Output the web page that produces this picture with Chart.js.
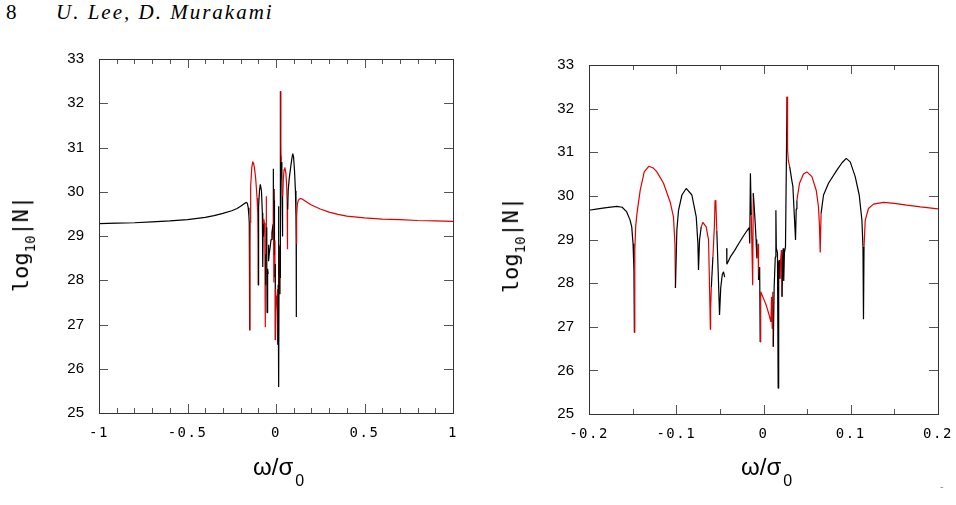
<!DOCTYPE html>
<html>
<head>
<meta charset="utf-8">
<script src="https://cdn.jsdelivr.net/npm/chart.js@4.4.1/dist/chart.umd.min.js"></script>
<style>
  body { margin: 0; background: #fff; width: 956px; height: 505px; position: relative; overflow: hidden; }
  canvas { position: absolute; top: 0; }
  .txt { position: absolute; white-space: nowrap; color: #000; }
  .ytitle { font: 22px "DejaVu Sans Mono"; line-height: 22px; transform: translate(-50%, -50%) rotate(-90deg); }
  .ytitle sub { font-size: 14px; line-height: 0; vertical-align: -7px; }
  .xtitle { font: 24px "Liberation Sans"; line-height: 24px; }
  .xtitle sub { font-size: 16px; line-height: 0; vertical-align: -11px; margin-left: 2px; }
</style>
</head>
<body>
<div class="txt" style="left:6px;top:2px;font:21px 'Liberation Serif';line-height:21px">8</div>
<div class="txt" style="left:56px;top:2px;font:italic 21px 'Liberation Serif';line-height:21px;letter-spacing:2px">U. Lee, D. Murakami</div>

<canvas id="leftChart" width="478" height="505" style="left:0"></canvas>
<canvas id="rightChart" width="478" height="505" style="left:478px"></canvas>

<div class="txt ytitle" style="left:21px;top:244px">log<sub>10</sub>|N|</div>
<div class="txt ytitle" style="left:511px;top:245px">log<sub>10</sub>|N|</div>
<div class="txt xtitle" style="left:253px;top:455px">ω/σ<sub>0</sub></div>
<div class="txt xtitle" style="left:741px;top:455px">ω/σ<sub>0</sub></div>
<div class="txt" style="left:940px;top:481px;font:10px 'DejaVu Sans';color:#888">-</div>

<script>
// frequency omega/sigma0, log10|N|, and the colour of the piece that starts at each point (k = black, r = red)
const omega = [
  -1.0, -0.9, -0.8, -0.7, -0.6, -0.5, -0.4, -0.35, -0.3, -0.25, -0.22, -0.2, -0.19, -0.18, -0.168, -0.162,
  -0.157, -0.153, -0.151, -0.1495, -0.1485, -0.148, -0.1475, -0.1465, -0.145, -0.1413, -0.1367, -0.1313,
  -0.1265, -0.1222, -0.1146, -0.107, -0.1032, -0.1015, -0.1009, -0.0993, -0.0974, -0.0935, -0.0886, -0.0821,
  -0.0771, -0.0752, -0.0745, -0.0733, -0.0714, -0.0695, -0.0657, -0.063, -0.0615, -0.0609, -0.0606, -0.0598,
  -0.058, -0.0563, -0.0555, -0.0546, -0.0535, -0.052, -0.0504, -0.049, -0.0472, -0.0458, -0.0445, -0.0435,
  -0.0422, -0.042, -0.038, -0.033, -0.028, -0.023, -0.019, -0.0164, -0.0158, -0.015, -0.014, -0.0124,
  -0.0117, -0.0108, -0.0095, -0.0085, -0.0077, -0.0062, -0.0057, -0.0044, -0.0038, -0.0032, 0.0, 0.003,
  0.006, 0.0085, 0.0092, 0.01, 0.0106, 0.0112, 0.0122, 0.0135, 0.0142, 0.0147, 0.016, 0.0168, 0.0174,
  0.0182, 0.0188, 0.0195, 0.0205, 0.0212, 0.022, 0.0226, 0.0232, 0.024, 0.0252, 0.027, 0.0276, 0.0285,
  0.03, 0.0325, 0.0337, 0.0352, 0.0362, 0.0367, 0.0375, 0.0383, 0.0413, 0.0458, 0.0497, 0.0555, 0.0604,
  0.063, 0.0642, 0.065, 0.066, 0.0688, 0.0745, 0.0841, 0.09, 0.0948, 0.0994, 0.1051, 0.1097, 0.1128,
  0.114, 0.1146, 0.1152, 0.1166, 0.1203, 0.1261, 0.1375, 0.15, 0.1643, 0.18, 0.2, 0.25, 0.3, 0.35, 0.4,
  0.5, 0.6, 0.7, 0.8, 0.9, 1.0
];
const logN = [
  29.28, 29.29, 29.30, 29.32, 29.34, 29.37, 29.42, 29.46, 29.51, 29.57, 29.62, 29.67, 29.70, 29.73, 29.76, 29.74,
  29.64, 29.45, 29.29, 28.9, 28.3, 26.87, 28.76, 29.3, 29.6, 30.13, 30.55, 30.68,
  30.64, 30.55, 30.29, 29.86, 29.52, 28.9, 27.89, 29.22, 29.67, 30.02, 30.17, 30.02,
  29.52, 28.91, 28.30, 28.99, 29.29, 29.39, 29.29, 28.99, 27.6, 26.94, 27.4, 27.9,
  28.6, 29.3, 29.9, 29.85, 29.2, 28.3, 27.27, 27.9, 28.2, 28.26, 28.14, null,
  28.8, 28.43, 28.6, 28.75, 28.92, 29.08, 29.2, 29.27, 28.91, 30.52, 29.55, 27.95,
  30.06, 29.8, 29.37, 29.0, 28.57, 28.9, 28.07, 28.37, 26.65, 27.8, 27.65, 27.5,
  27.3, 27.11, 27.69, 26.96, 27.8, 26.54, 27.9, 28.6, 29.67, 28.8, 28.7, 25.59, 28.48,
  28.53, 28.1, 28.5, 28.76, 27.69, 28.6, 28.8, 28.05, 28.7, 28.83, 32.27, 31.05, 30.8,
  30.67, 30.35, 30.21, 29.6, 29.2, 28.99, 29.7, 29.9, 30.29, 30.50, 30.55, 30.44, 30.13,
  29.75, 29.29, 28.70, 29.6, 30.02, 30.29, 30.59, 30.76, 30.86, 30.78, 30.44, 30.02, 29.44,
  28.83, 27.17, 28.83, 29.44, 29.71, 29.81, 29.85, 29.83, 29.79, 29.75, 29.70, 29.61, 29.54, 29.49, 29.45,
  29.41, 29.38, 29.37, 29.35, 29.34, 29.33
];
const part = (
  'kkkkkkkkkkkkkkkk' +
  'kkkkkrrrrrrr' +
  'rrrrrrkkkkkkkk' +
  'kkrrrrrrrkrr' +
  'rrkkkkkkkkkk' +
  'kkkkkkkkrrkk' +
  'kkrrkkrrrrrr' +
  'rrrkkkkkkkkkr' +
  'rrkkkkkkrrrkk' +
  'kkkkkrrrrrrr' +
  'rrkkkkkkkkkkk' +
  'krrrrrrrrrrrrrr' +
  'rrrrrr'
).split('');

const yTicks = [25, 26, 27, 28, 29, 30, 31, 32, 33];
const leftXLabels = ['-1', '-0.5', '0', '0.5', '1'];
const rightXLabels = ['-0.2', '-0.1', '0', '0.1', '0.2'];

const BLACK = '#000000';
const RED = '#e00000';

const points = omega.map((w, i) => ({ x: w, y: logN[i] }));

// frame round the plot and inward tick marks on all four sides
const frameTicks = {
  id: 'frameTicks',
  afterDraw(chart) {
    const { ctx, chartArea: a, scales: { x, y } } = chart;
    ctx.save();
    ctx.strokeStyle = '#555';
    ctx.lineWidth = 1;
    ctx.beginPath();
    x.ticks.forEach(t => {
      const px = Math.round(x.getPixelForValue(t.value)) + 0.5;
      const len = t.label ? 9 : 5;
      ctx.moveTo(px, a.bottom); ctx.lineTo(px, a.bottom - len);
      ctx.moveTo(px, a.top); ctx.lineTo(px, a.top + len);
    });
    y.ticks.forEach(t => {
      const py = Math.round(y.getPixelForValue(t.value)) + 0.5;
      ctx.moveTo(a.left, py); ctx.lineTo(a.left + 9, py);
      ctx.moveTo(a.right, py); ctx.lineTo(a.right - 9, py);
    });
    ctx.stroke();
    ctx.strokeStyle = '#333';
    ctx.strokeRect(Math.round(a.left) + 0.5, Math.round(a.top) + 0.5,
      Math.round(a.right - a.left), Math.round(a.bottom - a.top));
    ctx.restore();
  }
};

function makePanel(canvasId, xMin, xMax, step, labels, box) {
  const ctx = document.getElementById(canvasId).getContext('2d');
  return new Chart(ctx, {
    type: 'line',
    data: {
      datasets: [{
        data: points,
        borderColor: BLACK,
        borderWidth: 1.2,
        borderJoinStyle: 'bevel',
        pointRadius: 0,
        tension: 0,
        spanGaps: false,
        segment: {
          borderColor: c => part[c.p0DataIndex] === 'r' ? RED : BLACK
        }
      }]
    },
    options: {
      responsive: false,
      animation: false,
      devicePixelRatio: 1,
      layout: { padding: { top: box.top, right: box.right, left: 0, bottom: 0 } },
      plugins: { legend: { display: false }, tooltip: { enabled: false } },
      scales: {
        x: {
          type: 'linear',
          min: xMin,
          max: xMax,
          grid: { display: false, drawTicks: false },
          border: { display: false },
          ticks: {
            stepSize: step,
            autoSkip: false,
            maxRotation: 0,
            padding: 12,
            color: '#000',
            font: { family: 'DejaVu Sans Mono', size: 14 },
            callback: v => {
              const hit = labels.find(l => Math.abs(parseFloat(l) - v) < 1e-7);
              return hit === undefined ? '' : hit;
            }
          },
          afterFit: s => {
            s.height = box.xAxisHeight;
            s.paddingLeft = 0;
            s.paddingRight = 0;
            // spaced-out tick numbers on this axis only
            if (!s._spaced) {
              const draw = s.drawLabels;
              s.drawLabels = function (area) {
                this.ctx.save();
                this.ctx.letterSpacing = '1.5px';
                draw.call(this, area);
                this.ctx.restore();
              };
              s._spaced = true;
            }
          }
        },
        y: {
          type: 'linear',
          min: 25,
          max: 33,
          afterBuildTicks: s => { s.ticks = yTicks.map(v => ({ value: v })); },
          grid: { display: false, drawTicks: false },
          border: { display: false },
          ticks: {
            padding: 15,
            color: '#000',
            font: { family: 'Liberation Sans', size: 15 },
            callback: v => String(v)
          },
          afterFit: s => {
            s.width = box.yAxisWidth;
            s.paddingTop = 0;
            s.paddingBottom = 0;
          }
        }
      }
    },
    plugins: [frameTicks]
  });
}

makePanel('leftChart', -1, 1, 0.1, leftXLabels, { top: 59, right: 25, xAxisHeight: 92, yAxisWidth: 99 });
makePanel('rightChart', -0.2, 0.2, 0.05, rightXLabels, { top: 65, right: 18, xAxisHeight: 91, yAxisWidth: 111 });
</script>
</body>
</html>
